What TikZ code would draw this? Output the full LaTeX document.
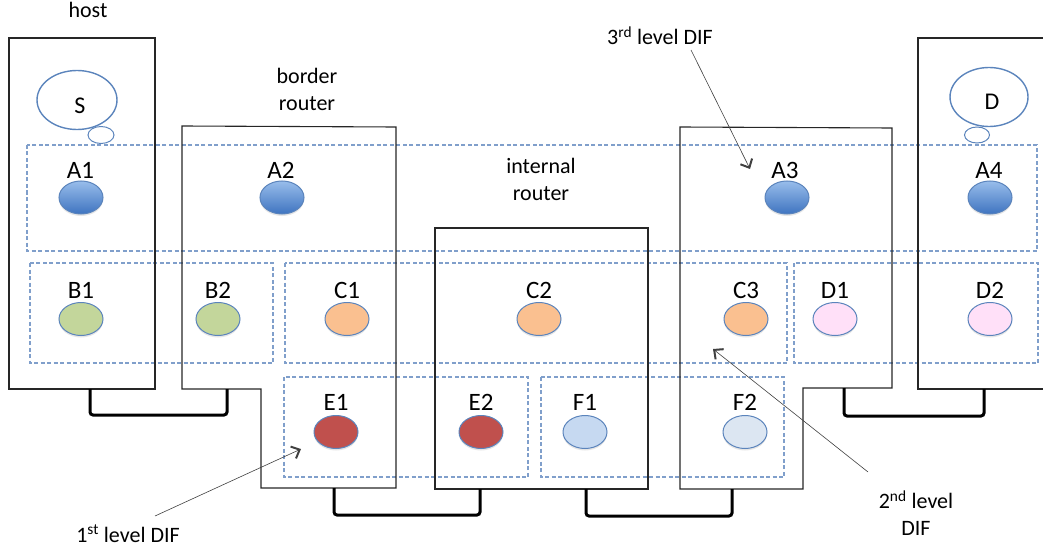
\documentclass[tikz,border=0pt]{standalone}
\usepackage{fontspec}
\setmainfont{Carlito}
\usetikzlibrary{shapes.geometric,arrows.meta,shadows}
\definecolor{difblue}{HTML}{809FCB}
\definecolor{ellline}{HTML}{5B84BC}
\definecolor{atop}{HTML}{98BDEB}
\definecolor{abot}{HTML}{3F74C0}
\definecolor{bgreen}{HTML}{C3D69B}
\definecolor{corange}{HTML}{FAC090}
\definecolor{dpink}{HTML}{FFE0F8}
\definecolor{ered}{HTML}{C0504D}
\definecolor{fblue}{HTML}{C6D9F1}
\definecolor{fpale}{HTML}{DCE6F2}
\tikzset{
  dev/.style={draw=black!85, line width=1.1pt},
  dif/.style={draw=difblue, dash pattern=on 4pt off 2.5pt, line width=1.2pt},
  ipcp/.style={ellipse, draw=ellline, line width=1pt, inner sep=0pt, minimum width=44pt, minimum height=33pt,
    drop shadow={shadow xshift=0pt, shadow yshift=-2pt, opacity=0.2}},
  aproc/.style={ipcp, top color=atop, bottom color=abot},
  lab/.style={font=\fontsize{25}{28}\selectfont, inner sep=0pt},
  txt/.style={font=\fontsize{22}{27}\selectfont, align=center, inner sep=0pt},
  link/.style={line width=3pt, rounded corners=3pt},
  pointer/.style={draw=black!75, line width=0.6pt, -{Straight Barb[length=7pt,width=13pt,line width=2pt]}},
  bubble/.style={ellipse, draw=ellline, line width=1.4pt, inner sep=0pt}
}
\begin{document}
\begin{tikzpicture}[x=1pt,y=-1pt]
\useasboundingbox (0,0) rectangle (1043,548);
\clip (0,0) rectangle (1043,548);

% DIF boxes
\draw[dif] (27,145) rectangle (1037,251);
\draw[dif] (30,263) rectangle (273,363);
\draw[dif] (285,263) rectangle (787,363);
\draw[dif] (794,263) rectangle (1038,363);
\draw[dif] (284,377) rectangle (528,477);
\draw[dif] (541,377) rectangle (784,477);

% devices
\draw[dev] (9,38) rectangle (155,389);
\draw[dev] (182,126) -- (396,127) -- (396,488) -- (261,488) -- (261,389) -- (182,389) -- cycle;
\draw[dev] (435,228) rectangle (648,489);
\draw[dev] (680,127) -- (892,128) -- (892,388) -- (803,388) -- (803,489) -- (680,489) -- cycle;
\draw[dev] (1050,38) -- (918,38) -- (918,389) -- (1050,389);

% link end points
\coordinate (hostL) at (90,389);
\coordinate (brL) at (227,389);
\coordinate (brLb) at (334,488);
\coordinate (irL) at (480,489);
\coordinate (irR) at (586,489);
\coordinate (brRb) at (732,489);
\coordinate (brR) at (844,388);
\coordinate (hostR) at (984,389);

\draw[link] (hostL) -- ++(0,26) -| (brL);
\draw[link] (brLb) -- ++(0,27) -| (irL);
\draw[link] (irR) -- ++(0,27) -| (brRb);
\draw[link] (brR) -- ++(0,28) -| (hostR);

% application bubbles
\node[bubble, minimum width=80pt, minimum height=59pt] (S) at (77,100) {};
\node[lab, font=\fontsize{24}{28}\selectfont] (Sl) at (80,106) {S};
\node[bubble, line width=1pt, minimum width=26pt, minimum height=17pt] (s2) at (101,135) {};
\node[bubble, minimum width=78pt, minimum height=59pt] (D) at (989,97) {};
\node[lab, font=\fontsize{24}{28}\selectfont] (Dl) at (992,102) {D};
\node[bubble, line width=1pt, minimum width=25pt, minimum height=16pt] (d2) at (977,135) {};

% level 3
\foreach \n/\x/\lx in {A1/81/80.5,A2/282/281,A3/787/785,A4/990/989}{
  \node[aproc] (\n) at (\x,197.5) {};
  \node[lab] (l\n) at (\lx,170) {\n};
}
% level 2
\foreach \n/\x/\c in {B1/81/bgreen,B2/218/bgreen,C1/347/corange,C2/539/corange,C3/746/corange,D1/835/dpink,D2/990/dpink}{
  \node[ipcp, fill=\c] (\n) at (\x,319) {};
  \node[lab] (l\n) at (\x,290.5) {\n};
}
% level 1
\foreach \n/\x/\c in {E1/336/ered,E2/481/ered,F1/585/fblue,F2/745/fpale}{
  \node[ipcp, fill=\c] (\n) at (\x,432) {};
  \node[lab] (l\n) at (\x,402) {\n};
}

% text labels
\node[txt, anchor=base] (host) at (88,18) {host};
\node[txt] (border) at (307,89) {border\\router};
\node[txt] (internal) at (541,179) {internal\\router};
\node[txt, anchor=base] (dif3) at (660,45) {3\textsuperscript{rd} level DIF};
\node[txt] (dif2) at (916,513) {2\textsuperscript{nd} level\\DIF};
\node[txt, anchor=base] (dif1) at (128,542) {1\textsuperscript{st} level DIF};

\coordinate (p3) at (750,169);
\coordinate (p2) at (713,349);
\coordinate (p1) at (301,449);
\coordinate (q3) at (691,50);
\coordinate (q2) at (868,472);
\coordinate (q1) at (155,516);
\draw[pointer] (q3) -- (p3);
\draw[pointer] (q2) -- (p2);
\draw[pointer] (q1) -- (p1);
\end{tikzpicture}
\end{document}
